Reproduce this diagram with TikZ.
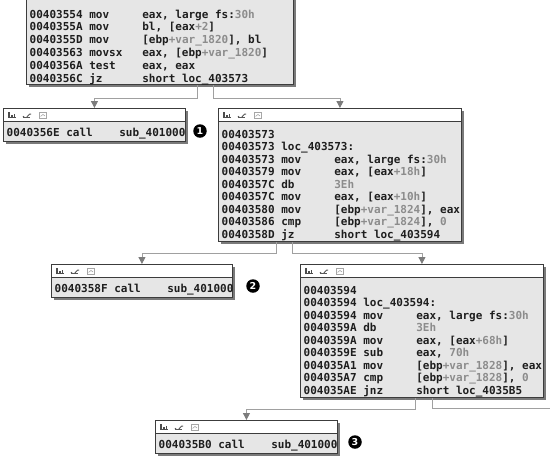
\documentclass[tikz,border=0pt]{standalone}
\usepackage{fontspec}
\setmainfont{DejaVu Sans}
\setsansfont{DejaVu Sans}
\setmonofont{DejaVu Sans Mono}
\usetikzlibrary{arrows.meta,shadows}
\definecolor{bodygrey}{HTML}{E6E6E6}
\definecolor{bordergrey}{HTML}{3C3C3C}
\definecolor{shadowgrey}{HTML}{7A7A7A}
\definecolor{edgegrey}{HTML}{A0A0A0}
\definecolor{arrowgrey}{HTML}{7C7C7C}
\definecolor{codedark}{HTML}{1E1E1E}
\definecolor{codelight}{HTML}{8C8C8C}
\newlength\cwid \setlength\cwid{6.622pt}
\newcommand\rw[3]{\makebox[9\cwid][l]{#1}\makebox[8\cwid][l]{#2}#3}
\newcommand\lt[1]{{\color{codelight}#1}}
\tikzset{hdricons/.pic={
  \fill[black!70] (0,-3) rectangle (8,-2);
  \fill[black!70] (0.4,-2) rectangle (2.2,2.8);
  \fill[black!70] (3,-2) rectangle (4.7,0.2);
  \fill[black!70] (5.5,-2) rectangle (7.3,1.2);
  \draw[black!65, line width=1pt] (15,-2.5) -- (22,-2.5);
  \draw[black!65, line width=0.9pt] (18.5,-2.5) -- (21.5,0.8) -- (23,0.8);
  \fill[black!65] (15.5,-1.8) circle (0.8);
  \draw[black!35, line width=0.8pt] (31,-3) rectangle (38.5,2.5);
  \draw[black!35, line width=0.6pt] (32.5,-1.5) -- (35,0.5) -- (37,-1);
}}
\begin{document}
\begin{tikzpicture}[x=1pt,y=1pt,
 codebox/.style={draw=bordergrey, line width=0.9pt, fill=bodygrey, anchor=north west, inner sep=0,
   drop shadow={shadow xshift=3pt, shadow yshift=-3pt, fill=shadowgrey, opacity=1}},
 header/.style={draw=bordergrey, line width=0.9pt, fill=white, anchor=north west, inner sep=0, minimum height=13pt},
 code/.style={anchor=base west, inner sep=0, font=\fontsize{11}{12.5}\selectfont\ttfamily\bfseries, text=codedark},
 edge/.style={draw=edgegrey, line width=0.8pt, -{Triangle[width=7pt,length=7pt,color=arrowgrey]}},
 plain/.style={draw=edgegrey, line width=0.8pt},
 marker/.style={circle, fill=black, text=white, inner sep=0, minimum size=13.5pt, font=\fontsize{9.5}{10}\selectfont\sffamily\bfseries}
]
\useasboundingbox (0,0) rectangle (550,-459);

% top box (cut off by page top)
\node[codebox, minimum width=267pt, minimum height=104pt] (b0) at (26,20) {};
\foreach \r [count=\i] in {
  {\rw{00403554}{mov}{eax, large fs:\lt{30h}}},
  {\rw{0040355A}{mov}{bl, [eax\lt{+2}]}},
  {\rw{0040355D}{mov}{[ebp\lt{+var\_1820}], bl}},
  {\rw{00403563}{movsx}{eax, [ebp\lt{+var\_1820}]}},
  {\rw{0040356A}{test}{eax, eax}},
  {\rw{0040356C}{jz}{short loc\_403573}}}
  \node[code] (b0r\i) at (29.5,{-18-12.8*(\i-1)}) {\r};

% box 1
\node[codebox, minimum width=182pt, minimum height=33pt] (b1) at (3,-108) {};
\node[header, minimum width=182pt] (b1h) at (b1.north west) {};
\pic at ([xshift=5pt]b1h.west) {hdricons};
\node[code] (b1r1) at (6.5,-136.5) {\rw{0040356E}{call}{sub\_401000}};
\node[marker] (m1) at (200,-131) {1};

% box 2
\node[codebox, minimum width=243pt, minimum height=133pt] (b2) at (218,-108) {};
\node[header, minimum width=243pt] (b2h) at (b2.north west) {};
\pic at ([xshift=5pt]b2h.west) {hdricons};
\foreach \r [count=\i] in {
  {00403573},
  {\makebox[9\cwid][l]{00403573}loc\_403573:},
  {\rw{00403573}{mov}{eax, large fs:\lt{30h}}},
  {\rw{00403579}{mov}{eax, [eax\lt{+18h}]}},
  {\rw{0040357C}{db}{\lt{3Eh}}},
  {\rw{0040357C}{mov}{eax, [eax\lt{+10h}]}},
  {\rw{00403580}{mov}{[ebp\lt{+var\_1824}], eax}},
  {\rw{00403586}{cmp}{[ebp\lt{+var\_1824}], \lt{0}}},
  {\rw{0040358D}{jz}{short loc\_403594}}}
  \node[code] (b2r\i) at (221.5,{-138-12.5*(\i-1)}) {\r};

% box 3
\node[codebox, minimum width=181pt, minimum height=33pt] (b3) at (51,-264) {};
\node[header, minimum width=181pt] (b3h) at (b3.north west) {};
\pic at ([xshift=5pt]b3h.west) {hdricons};
\node[code] (b3r1) at (54.5,-292.5) {\rw{0040358F}{call}{sub\_401000}};
\node[marker] (m2) at (253,-286) {2};

% box 4
\node[codebox, minimum width=243pt, minimum height=133pt] (b4) at (300,-264) {};
\node[header, minimum width=243pt] (b4h) at (b4.north west) {};
\pic at ([xshift=5pt]b4h.west) {hdricons};
\foreach \r [count=\i] in {
  {00403594},
  {\makebox[9\cwid][l]{00403594}loc\_403594:},
  {\rw{00403594}{mov}{eax, large fs:\lt{30h}}},
  {\rw{0040359A}{db}{\lt{3Eh}}},
  {\rw{0040359A}{mov}{eax, [eax\lt{+68h}]}},
  {\rw{0040359E}{sub}{eax, \lt{70h}}},
  {\rw{004035A1}{mov}{[ebp\lt{+var\_1828}], eax}},
  {\rw{004035A7}{cmp}{[ebp\lt{+var\_1828}], \lt{0}}},
  {\rw{004035AE}{jnz}{short loc\_4035B5}}}
  \node[code] (b4r\i) at (303.5,{-294-12.5*(\i-1)}) {\r};

% box 5
\node[codebox, minimum width=182pt, minimum height=33pt] (b5) at (155,-420) {};
\node[header, minimum width=182pt] (b5h) at (b5.north west) {};
\pic at ([xshift=5pt]b5h.west) {hdricons};
\node[code] (b5r1) at (158.5,-448.5) {\rw{004035B0}{call}{sub\_401000}};
\node[marker] (m3) at (355,-442) {3};

% connectors
\draw[edge] ([xshift=37.5pt]b0.south) -- ++(0,-13) -| (b1.north);
\draw[edge] ([xshift=53.5pt]b0.south) -- ++(0,-13) -| (b2.north);
\draw[edge] ([xshift=-63.5pt]b2.south) -- ++(0,-11) -| (b3.north);
\draw[edge] ([xshift=-47.5pt]b2.south) -- ++(0,-11) -| (b4.north);
\draw[edge] ([xshift=-6.5pt]b4.south) -- ++(0,-11) -| (b5.north);
\coordinate (off) at (556,-408);
\draw[plain] ([xshift=10.5pt]b4.south) |- (off);
\end{tikzpicture}
\end{document}
